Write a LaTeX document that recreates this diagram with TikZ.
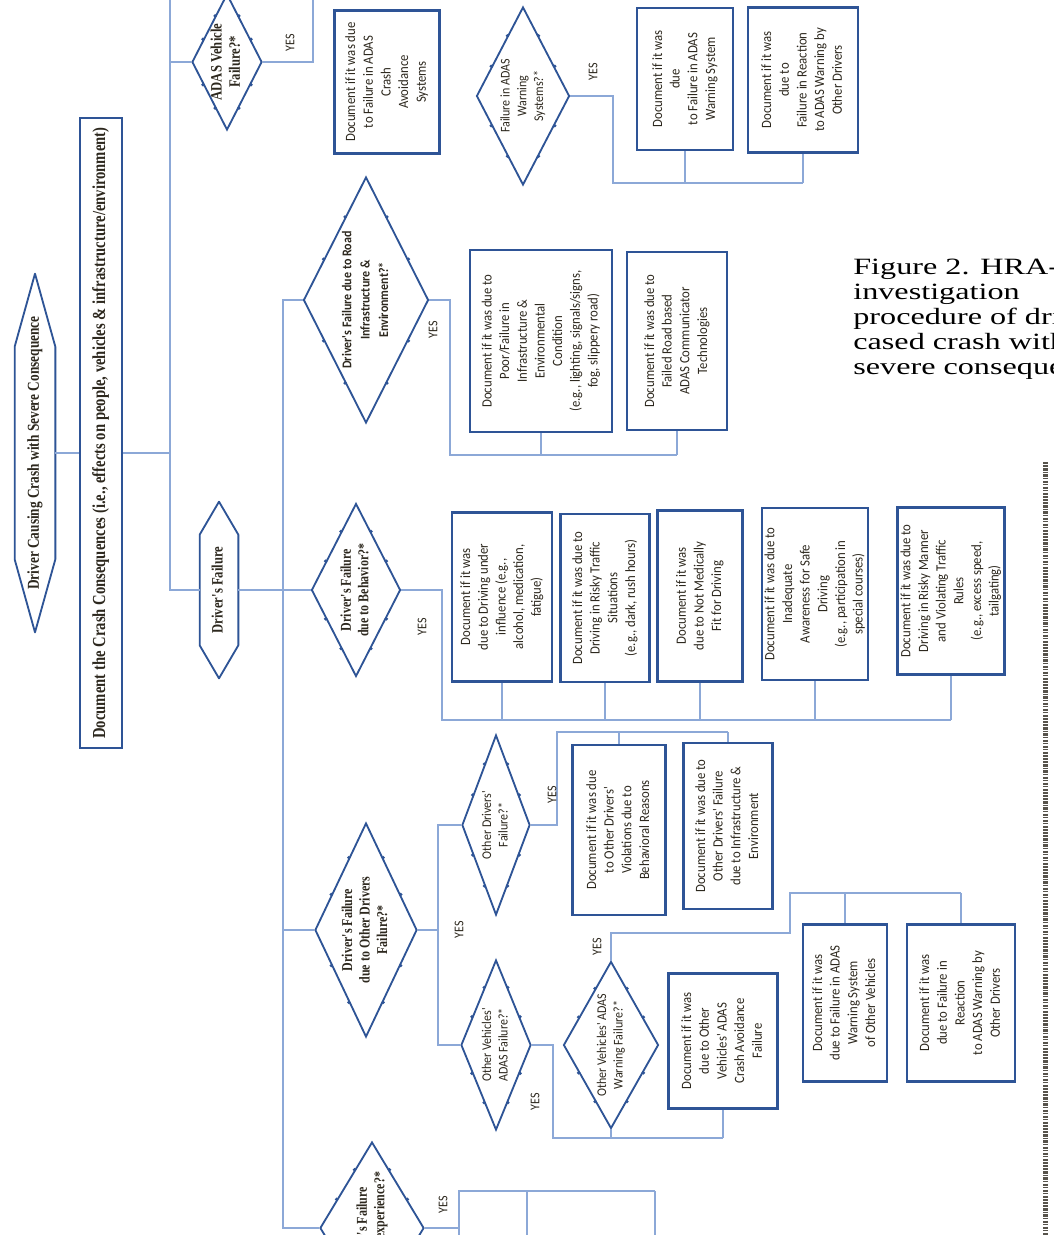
\documentclass[tikz,border=0pt]{standalone}
\usepackage{fontspec}
\usetikzlibrary{shapes.geometric,calc}
\newfontfamily\boxfont{Carlito}[FakeStretch=0.9]
\newfontfamily\headfont{Liberation Serif}[FakeStretch=0.8]
\newfontfamily\capfont{Liberation Serif}[FakeStretch=1.38]
\definecolor{boxblue}{RGB}{46,84,150}
\definecolor{linkblue}{RGB}{140,168,215}
\definecolor{inkdark}{RGB}{45,40,30}
\newcommand{\uptext}[1]{\rotatebox{90}{\begin{tabular}{@{}c@{}}#1\end{tabular}}}

\begin{document}
\begin{tikzpicture}[x=0.6pt, y=-0.6pt,
    sz/.style 2 args={minimum width=#1*0.6pt, minimum height=#2*0.6pt},
    docbox/.style={draw=boxblue, line width=1.6pt, fill=white, inner sep=0pt,
        text=inkdark, font=\boxfont\fontsize{8.5}{10.6}\selectfont},
    crashbox/.style={draw=boxblue, line width=1.6pt, fill=white, inner sep=0pt,
        text=inkdark, font=\headfont\bfseries\fontsize{11}{12}\selectfont},
    qdiam/.style={diamond, draw=boxblue, line width=1.1pt, fill=white, inner sep=0pt},
    qbold/.style={text=inkdark, font=\headfont\bfseries\fontsize{9.5}{11}\selectfont},
    qsans/.style={text=inkdark, font=\boxfont\fontsize{8}{10}\selectfont},
    qsansb/.style={text=inkdark, font=\boxfont\bfseries\fontsize{8}{11}\selectfont},
    hexnode/.style={inner sep=0pt, text=inkdark, font=\headfont\bfseries\fontsize{10}{12}\selectfont},
    hexline/.style={draw=boxblue, line width=1.1pt, line join=round, fill=white},
    link/.style={draw=linkblue, line width=1pt},
    yes/.style={rotate=90, text=inkdark, font=\boxfont\fontsize{8}{9}\selectfont},
    captext/.style={text=black, align=left, inner sep=0pt, font=\capfont\fontsize{14}{15}\selectfont}
]
\useasboundingbox (0,0) rectangle (1054,1235);
\clip (0,0) rectangle (1054,1235);
\fill[white] (0,0) rectangle (1054,1235);

% start and consequences
\node[hexnode, sz={40}{358}] (start) at (35,453) {};
\draw[hexline] (start.north) -- ([yshift=-43.8pt]start.north west) -- ([yshift=43.8pt]start.south west)
    -- (start.south) -- ([yshift=43.8pt]start.south east) -- ([yshift=-43.8pt]start.north east) -- cycle;
\node[hexnode] (startT) at (start) {\uptext{Driver Causing Crash with Severe Consequence}};
\node[crashbox, sz={42}{630}] (crash) at (101,433) {\uptext{Document the Crash Consequences (i.e., effects on people, vehicles \& infrastructure/environment)}};

\node[hexnode, sz={38}{176}] (hdf) at (219,590) {};
\draw[hexline] (hdf.north) -- ([yshift=-19.8pt]hdf.north west) -- ([yshift=19.8pt]hdf.south west)
    -- (hdf.south) -- ([yshift=19.8pt]hdf.south east) -- ([yshift=-19.8pt]hdf.north east) -- cycle;
\node[hexnode, font=\headfont\bfseries\fontsize{9.5}{11}\selectfont] (hdfT) at (hdf) {\uptext{Driver's Failure}};

% ADAS vehicle branch
\node[qdiam, sz={70}{136}] (dAdas) at (227,62) {};
\node[qbold] (dAdasT) at (dAdas) {\uptext{ADAS Vehicle\\Failure?*}};
\node[docbox, sz={105}{143}] (adasdoc) at (387,82) {\uptext{Document if it was due\\to Failure in ADAS\\Crash\\Avoidance\\Systems}};
\node[qdiam, sz={93}{178}] (dWarn) at (523,96) {};
\node[qsans] (dWarnT) at (dWarn) {\uptext{Failure in ADAS\\Warning\\Systems?*}};
\node[docbox, sz={96}{142}] (wb1) at (685,79) {\uptext{Document if it was\\due\\to Failure in ADAS\\Warning System}};
\node[docbox, sz={110}{145}] (wb2) at (803,80) {\uptext{Document if it was\\due to\\Failure in Reaction\\to ADAS Warning by\\Other Drivers}};

% road infrastructure branch
\node[qdiam, sz={125}{246}] (dRoad) at (366,300) {};
\node[qsansb] (dRoadT) at (dRoad) {\uptext{Driver's Failure due to Road\\Infrastructure \&\\Environment?*}};
\node[docbox, sz={142}{182}] (rb1) at (541,341) {\uptext{Document if it was due to\\Poor/Failure in\\Infrastructure \&\\Environmental\\Condition\\(e.g., lighting, signals/signs,\\fog, slippery road)}};
\node[docbox, sz={100}{178}] (rb2) at (677,341) {\uptext{Document if it was due to\\Failed Road based\\ADAS Communicator\\Technologies}};

% behaviour branch
\node[qdiam, sz={89}{173}] (dBeh) at (356,590) {};
\node[qbold, font=\headfont\bfseries\fontsize{9}{10.5}\selectfont] (dBehT) at (dBeh) {\uptext{Driver's Failure\\due to Behavior?*}};
\node[docbox, sz={100}{169}] (B1) at (502,597) {\uptext{Document if it was\\due to Driving under\\influence (e.g.,\\alcohol, medication,\\fatigue)}};
\node[docbox, sz={89}{168}] (B2) at (605,598) {\uptext{Document if it was due to\\Driving in Risky Traffic\\Situations\\(e.g., dark, rush hours)}};
\node[docbox, sz={85}{171}] (B3) at (700,596) {\uptext{Document if it was\\due to Not Medically\\Fit for Driving}};
\node[docbox, sz={106}{172}] (B4) at (815,594) {\uptext{Document if it was due to\\Inadequate\\Awareness for Safe\\Driving\\(e.g., participation in\\special courses)}};
\node[docbox, sz={107}{167}] (B5) at (951,591) {\uptext{Document if it was due to\\Driving in Risky Manner\\and Violating Traffic\\Rules\\(e.g., excess speed,\\tailgating)}};

% other drivers branch
\node[qdiam, sz={102}{214}] (dOther) at (366,930) {};
\node[qbold, font=\headfont\bfseries\fontsize{9}{10.5}\selectfont] (dOtherT) at (dOther) {\uptext{Driver's Failure\\due to Other Drivers\\Failure?*}};
\node[qdiam, sz={68}{180}] (dOdrv) at (496,825) {};
\node[qsans] (dOdrvT) at (dOdrv) {\uptext{Other Drivers'\\Failure?*}};
\node[docbox, sz={93}{170}] (ob1) at (619,830) {\uptext{Document if it was due\\to Other Drivers'\\Violations due to\\Behavioral Reasons}};
\node[docbox, sz={89}{166}] (ob2) at (728,826) {\uptext{Document if it was due to\\Other Drivers' Failure\\due to Infrastructure \&\\Environment}};
\node[qdiam, sz={70}{170}] (dOveh) at (496,1045) {};
\node[qsans] (dOvehT) at (dOveh) {\uptext{Other Vehicles'\\ADAS Failure?*}};
\node[qdiam, sz={95}{167}] (dOwarn) at (611,1045) {};
\node[qsans] (dOwarnT) at (dOwarn) {\uptext{Other Vehicles' ADAS\\Warning Failure?*}};
\node[docbox, sz={109}{135}] (vb1) at (723,1041) {\uptext{Document if it was\\due to Other\\Vehicles' ADAS\\Crash Avoidance\\Failure}};
\node[docbox, sz={84}{157}] (vb2) at (845,1003) {\uptext{Document if it was\\due to Failure in ADAS\\Warning System\\of Other Vehicles}};
\node[docbox, sz={108}{157}] (vb3) at (961,1003) {\uptext{Document if it was\\due to Failure in\\Reaction\\to ADAS Warning by\\Other Drivers}};

% experience branch
\node[qdiam, sz={104}{172}] (dExp) at (372,1228) {};
\node[qbold, font=\headfont\bfseries\fontsize{9}{10.5}\selectfont] (dExpT) at (dExp) {\uptext{Driver's Failure\\due to Inexperience?*}};

% connection dots on the decision shapes
\foreach \d in {dAdas,dWarn,dRoad,dBeh,dOther,dOdrv,dOveh,dOwarn,dExp}
  \foreach \a/\b in {north/east,east/south,south/west,west/north}
    \foreach \t in {0.33,0.67}
      \fill[boxblue] ($(\d.\a)!\t!(\d.\b)$) circle (1.1pt);

% trunks
\coordinate (t1a) at (170,-5);
\coordinate (t1b) at (170,590);
\coordinate (t2b) at (283,1228);
\draw[link] (start.east) -- (start.east -| crash.west);
\draw[link] (crash.east |- start.east) -- (start.east -| t1a);
\draw[link] (t1a) -- (t1b) -- (hdf.west);
\draw[link] (hdf.east) -- (dBeh.west);
\draw[link] (dRoad.west) -- (dRoad.west -| t2b) -- (t2b) -- (dExp.west);
\draw[link] (dOther.west -| t2b) -- (dOther.west);

% ADAS vehicle links
\coordinate (adasup) at (313,-5);
\draw[link] (dAdas.west -| t1a) -- (dAdas.west);
\draw[link] (dAdas.east) -| (adasup);
\coordinate (warnbus) at (613,183);
\draw[link] (dWarn.east) -| (warnbus) -- (warnbus -| wb2.south);
\draw[link] (wb1.south) -- (wb1.south |- warnbus);
\draw[link] (wb2.south) -- (wb2.south |- warnbus);

% road links
\coordinate (roadbus) at (450,455);
\draw[link] (dRoad.east) -| (roadbus) -- (roadbus -| rb2.south);
\draw[link] (rb1.south) -- (rb1.south |- roadbus);
\draw[link] (rb2.south) -- (rb2.south |- roadbus);

% behaviour links
\coordinate (behbus) at (442,720);
\draw[link] (dBeh.east) -| (behbus) -- (behbus -| B5.south);
\foreach \b in {B1,B2,B3,B4,B5}
  \draw[link] (\b.south) -- (\b.south |- behbus);

% other drivers links
\coordinate (othfork) at (438,930);
\draw[link] (dOther.east) -- (othfork);
\draw[link] (dOdrv.west) -| (othfork) |- (dOveh.west);
\coordinate (odbus) at (557,732);
\draw[link] (dOdrv.east) -| (odbus) -- (odbus -| ob2.north);
\draw[link] (ob1.north) -- (ob1.north |- odbus);
\draw[link] (ob2.north) -- (ob2.north |- odbus);
\coordinate (ovbus) at (553,1138);
\draw[link] (dOveh.east) -| (ovbus) -- (ovbus -| vb1.south);
\draw[link] (dOwarn.south) -- (dOwarn.south |- ovbus);
\draw[link] (vb1.south) -- (vb1.south |- ovbus);
\coordinate (owbend) at (790,933);
\coordinate (owbus) at (790,893);
\draw[link] (dOwarn.north) |- (owbend) -- (owbus) -- (owbus -| vb3.north);
\draw[link] (vb2.north) -- (vb2.north |- owbus);
\draw[link] (vb3.north) -- (vb3.north |- owbus);

% experience links
\coordinate (expbus) at (459,1191);
\coordinate (expmid) at (527,1191);
\coordinate (expend) at (655,1191);
\coordinate (expdown) at (459,1240);
\draw[link] (dExp.east) -| (expbus) -- (expend);
\draw[link] (expbus) -- (expdown);
\draw[link] (expmid) -- (expmid |- expdown);
\draw[link] (expend) -- (expend |- expdown);

% YES labels
\node[yes] (yes1) at (290,43) {YES};
\node[yes] (yes2) at (593,72) {YES};
\node[yes] (yes3) at (433,330) {YES};
\node[yes] (yes4) at (422,627) {YES};
\node[yes] (yes5) at (459,930) {YES};
\node[yes] (yes6) at (552,795) {YES};
\node[yes] (yes7) at (535,1102) {YES};
\node[yes] (yes8) at (597,947) {YES};
\node[yes] (yes9) at (443,1205) {YES};

% caption and side note
\node[captext, anchor=north west] (caption) at (853,258)
  {Figure 2. HRA-based\\investigation\\procedure of driver-\\cased crash with\\severe consequences};
\coordinate (notetop) at (1045,462);
\coordinate (notebot) at (1045,1240);
\draw[inkdark!80, line width=3pt, dash pattern=on 1.4pt off 0.6pt on 0.8pt off 0.9pt] (notetop) -- (notebot);
\end{tikzpicture}
\end{document}
